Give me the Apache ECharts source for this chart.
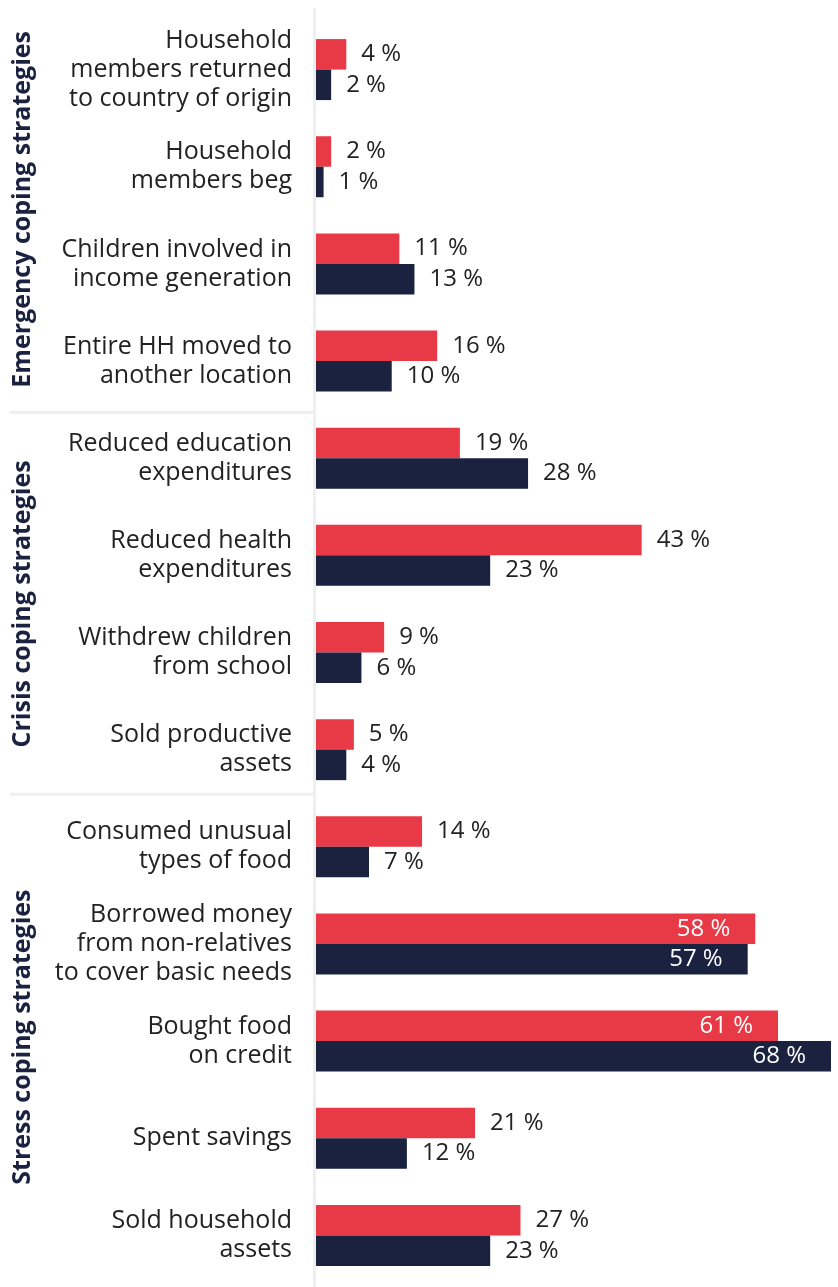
<!DOCTYPE html>
<html><head><meta charset="utf-8">
<script src="https://cdn.jsdelivr.net/npm/echarts@6/dist/echarts.min.js"></script>
<style>html,body{margin:0;padding:0;background:#fff}#c{width:838px;height:1287px}</style>
</head><body><div id="c"></div>
<script>
const categories = [
  'Household\nmembers returned\nto country of origin',
  'Household\nmembers beg',
  'Children involved in\nincome generation',
  'Entire HH moved to\nanother location',
  'Reduced education\nexpenditures',
  'Reduced health\nexpenditures',
  'Withdrew children\nfrom school',
  'Sold productive\nassets',
  'Consumed unusual\ntypes of food',
  'Borrowed money\nfrom non-relatives\nto cover basic needs',
  'Bought food\non credit',
  'Spent savings',
  'Sold household\nassets'
];
const seriesRed = [4, 2, 11, 16, 19, 43, 9, 5, 14, 58, 61, 21, 27];
const seriesNavy = [2, 1, 13, 10, 28, 23, 6, 4, 7, 57, 68, 12, 23];
const groups = [
  {name: 'Emergency coping strategies', from: 0, to: 3},
  {name: 'Crisis coping strategies', from: 4, to: 7},
  {name: 'Stress coping strategies', from: 8, to: 12}
];

const RED = '#e83947', NAVY = '#1a2240';
const FONT = '"Open Sans", "Noto Sans", sans-serif';

function makeData(vals) {
  return vals.map(v => v >= 50 ? {
    value: v,
    label: {position: 'insideRight', distance: 5, offset: [-20, 0], color: '#fff', fontWeight: 500}
  } : v);
}
const baseLabel = {
  show: true, position: 'right', distance: 15, color: '#222',
  fontFamily: FONT, fontSize: 24, formatter: p => p.value + ' %'
};

const chart = echarts.init(document.getElementById('c'));
chart.setOption({
  animation: false,
  grid: {left: 316, right: 7, top: 21, bottom: 3, containLabel: false},
  xAxis: {type: 'value', min: 0, max: 68, show: false},
  yAxis: {
    type: 'category', data: categories, inverse: true,
    axisLine: {show: false}, axisTick: {show: false},
    axisLabel: {margin: 24, color: '#222', fontFamily: FONT, fontSize: 25, lineHeight: 29, align: 'right'}
  },
  series: [
    {type: 'bar', data: makeData(seriesRed), itemStyle: {color: RED}, barWidth: 30.5, barGap: '0%', label: baseLabel},
    {type: 'bar', data: makeData(seriesNavy), itemStyle: {color: NAVY}, barWidth: 30.5, barGap: '0%', label: baseLabel}
  ]
});

const x0 = chart.convertToPixel({xAxisIndex: 0}, 0);
const yc = i => chart.convertToPixel({yAxisIndex: 0}, i);
const labelShift = [-6, 0, -4];
const sepShift = [3, -4];
const graphics = [{
  type: 'line', shape: {x1: x0 - 1.5, y1: 8, x2: x0 - 1.5, y2: 1287},
  style: {stroke: '#efefef', lineWidth: 3}, z: 0
}];
groups.forEach((g, gi) => {
  const cy = (yc(g.from) + yc(g.to)) / 2 + labelShift[gi];
  graphics.push({
    type: 'text', x: 23, y: cy, rotation: Math.PI / 2,
    style: {text: g.name, fill: NAVY, font: 'bold 25px ' + FONT, align: 'center', verticalAlign: 'middle'}
  });
  if (gi < groups.length - 1) {
    const sy = (yc(g.to) + yc(g.to + 1)) / 2 + sepShift[gi];
    graphics.push({
      type: 'line', shape: {x1: 10, y1: sy, x2: x0 - 3, y2: sy},
      style: {stroke: '#efefef', lineWidth: 3}
    });
  }
});
chart.setOption({graphic: graphics});
</script></body></html>
